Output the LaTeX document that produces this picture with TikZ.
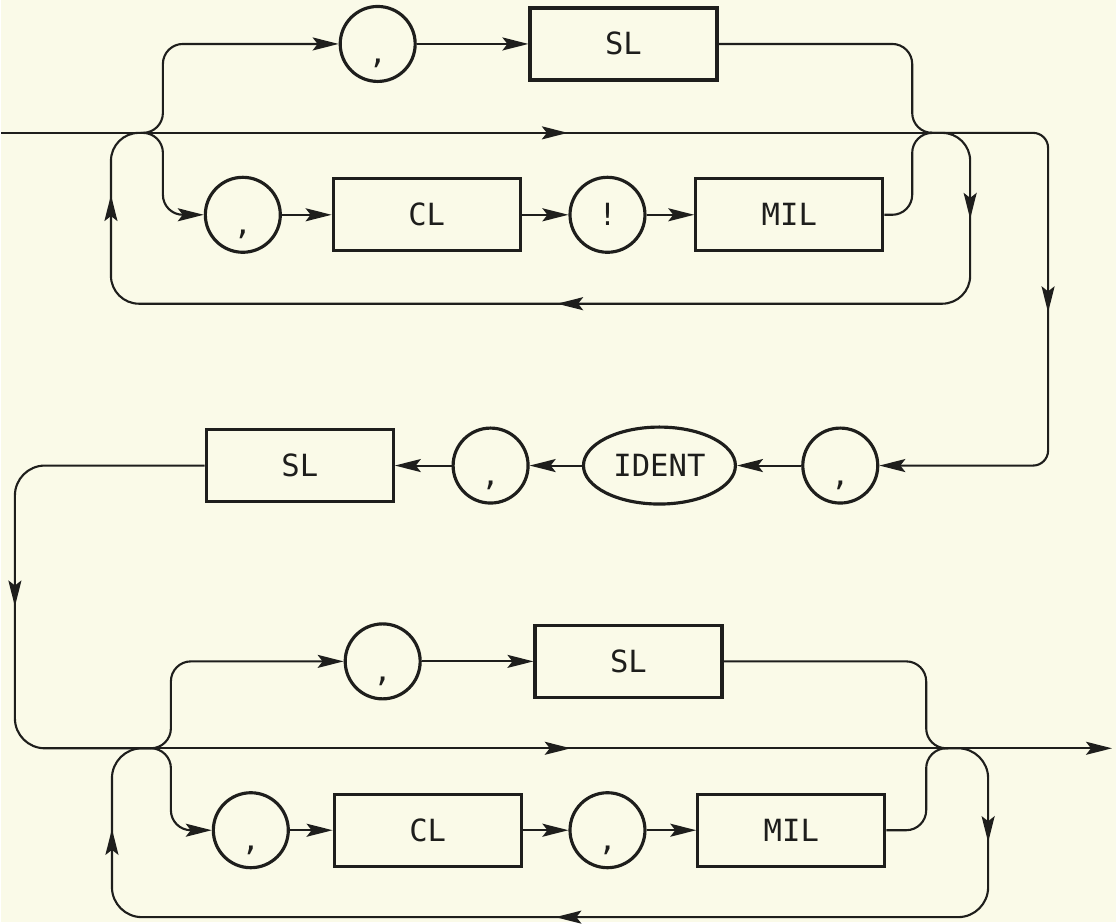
\documentclass[tikz,border=0pt]{standalone}
\usepackage{fontspec}
\setmonofont{DejaVu Sans Mono}
\usetikzlibrary{arrows.meta,shapes.geometric,decorations.markings}

\definecolor{paper}{RGB}{250,250,232}
\definecolor{ink}{RGB}{30,30,28}

\tikzset{
    >={Stealth[length=2.6mm,width=1.3mm,inset=0.5mm]},
    line/.style={ink, line width=0.6pt},
    term/.style={draw=ink, line width=0.9pt, circle, minimum size=0.75cm, inner sep=0pt},
    comma/.style={term, text height=4mm},
    box/.style={draw=ink, line width=0.9pt, rectangle, minimum width=1.87cm, minimum height=0.72cm, inner sep=0pt},
    oval/.style={draw=ink, line width=0.9pt, ellipse, minimum width=1.52cm, minimum height=0.77cm, inner sep=0pt},
    mid/.style={postaction={decorate}, decoration={markings, mark=at position #1 with {\arrow{>}}}},
    back/.style n args={3}{postaction={decorate}, decoration={markings,
        mark=at position #1 with {\arrow{>}},
        mark=at position #2 with {\arrow{>}},
        mark=at position #3 with {\arrow{>}}}},
}

\begin{document}
\begin{tikzpicture}[x=0.01cm, y=-0.01cm, font=\ttfamily\fontsize{8.7}{10}\selectfont, text height=2.2mm, text depth=0pt, text=ink]

    \fill [paper] (0,0) rectangle (1116,923);

    \node [comma] (a) at (377,44) {,};
    \node [box] (b) at (623,44) {SL};
    \node [comma] (c) at (242,215) {,};
    \node [box] (d) at (426,215) {CL};
    \node [term] (e) at (607,215) {!};
    \node [box] (f) at (789,215) {MIL};
    \node [comma] (g) at (840,466) {,};
    \node [oval] (h) at (659,466) {IDENT};
    \node [comma] (i) at (490,466) {,};
    \node [box] (j) at (299,466) {SL};
    \node [comma] (k) at (382,662) {,};
    \node [box] (l) at (628,662) {SL};
    \node [comma] (m) at (250,831) {,};
    \node [box] (n) at (427,831) {CL};
    \node [comma] (o) at (607,831) {,};
    \node [box] (p) at (791,831) {MIL};

    \coordinate (in) at (0,133);
    \coordinate (u) at (140,133);
    \coordinate (v) at (930,133);
    \coordinate (w) at (150,749);
    \coordinate (z) at (948,749);
    \coordinate (out) at (1112,749);

    \draw [line, mid=5.67cm] (in) -- (u) -- (v);
    \draw [line, rounded corners=0.15cm, ->, mid=2.91cm] (v) -- ++(118,0) |- (g);
    \draw [line, rounded corners=0.2cm, ->] (u) -- ++(22,0) |- (a);
    \draw [line, ->] (a) -- (b);
    \draw [line, rounded corners=0.2cm] (v) -- ++(-18,0) |- (b);
    \draw [line, rounded corners=0.2cm, ->] (u) -- ++(22,0) |- (c);
    \draw [line, ->] (c) -- (d);
    \draw [line, ->] (d) -- (e);
    \draw [line, ->] (e) -- (f);
    \draw [line, rounded corners=0.2cm] (v) -- ++(-18,0) |- (f);
    \draw [line, rounded corners=0.28cm, back={1.14cm}{6.0cm}{11.43cm}] (v) -| ++(40,171) -| ++(-860,-171) -- (u);

    \draw [line, ->] (g) -- (h);
    \draw [line, ->] (h) -- (i);
    \draw [line, ->] (i) -- (j);
    \draw [line, rounded corners=0.3cm, mid=3.18cm] (j.west) -- ++(-190,0) |- (w);

    \draw [line, ->, mid=4.2cm] (w) -- (z) -- (out);
    \draw [line, rounded corners=0.2cm, ->] (w) -- ++(20,0) |- (k);
    \draw [line, ->] (k) -- (l);
    \draw [line, rounded corners=0.2cm] (z) -- ++(-22,0) |- (l);
    \draw [line, rounded corners=0.2cm, ->] (w) -- ++(20,0) |- (m);
    \draw [line, ->] (m) -- (n);
    \draw [line, ->] (n) -- (o);
    \draw [line, ->] (o) -- (p);
    \draw [line, rounded corners=0.2cm] (z) -- ++(-22,0) |- (p);
    \draw [line, rounded corners=0.3cm, back={1.21cm}{6.16cm}{11.35cm}] (z) -| ++(40,169) -| ++(-877,-169) -- (w);

\end{tikzpicture}
\end{document}
